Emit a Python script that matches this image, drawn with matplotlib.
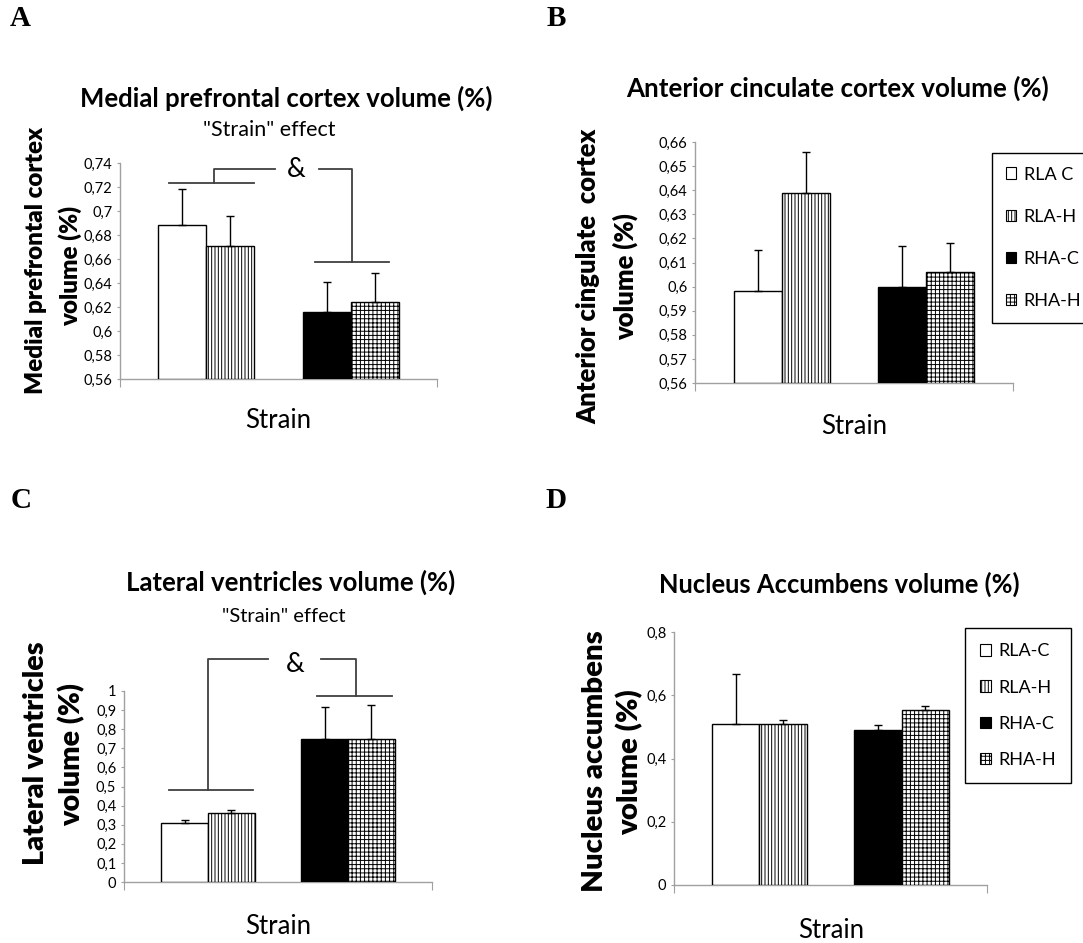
import numpy as np
import matplotlib
matplotlib.use("Agg")
import matplotlib.pyplot as plt
from matplotlib.patches import Patch
from matplotlib.ticker import FuncFormatter

# ── Data ──────────────────────────────────────────────────────────────────────
GROUPS = ["RLA-C", "RLA-H", "RHA-C", "RHA-H"]
LEGEND_B = ["RLA C", "RLA-H", "RHA-C", "RHA-H"]
LEGEND_D = ["RLA-C", "RLA-H", "RHA-C", "RHA-H"]

mpfc_mean = [0.688, 0.671, 0.616, 0.6245]
mpfc_sem = [0.030, 0.025, 0.025, 0.0235]

acc_mean = [0.598, 0.639, 0.600, 0.606]
acc_sem = [0.017, 0.017, 0.017, 0.012]

lv_mean = [0.311, 0.362, 0.747, 0.747]
lv_sem = [0.016, 0.014, 0.169, 0.181]

nacc_mean = [0.509, 0.509, 0.489, 0.553]
nacc_sem = [0.158, 0.014, 0.017, 0.013]

# ── Style ─────────────────────────────────────────────────────────────────────
W, H = 1083, 943
FONT = ["Lato", "DejaVu Sans"]
plt.rcParams["font.family"] = FONT
plt.rcParams["hatch.linewidth"] = 0.7
AXIS_GREY = "#a0a0a0"
BRACKET = "#404040"

FACES = ["white", "white", "black", "white"]
HATCHES = [None, "|||||", None, "++++"]
X_POS = [1.3, 2.3, 4.3, 5.3]     # Excel-like clustered layout, 1 bar = 1 unit
X_MAX = 6.6

fig = plt.figure(figsize=(W / 100, H / 100), dpi=100)
renderer = fig.canvas.get_renderer()


def px_axes(x0, y0, x1, y1):
    return fig.add_axes([x0 / W, 1 - y1 / H, (x1 - x0) / W, (y1 - y0) / H])


def ftext(x, y, s, **kw):
    return fig.text(x / W, 1 - y / H, s, ha="center", va="center", **kw)


def fit(t, target, vertical=False):
    """Scale a text's font so its rendered length matches target pixels."""
    bb = t.get_window_extent(renderer)
    cur = bb.height if vertical else bb.width
    t.set_fontsize(t.get_fontsize() * target / cur)
    return t.get_fontsize()


def ylabel2(line1, line2, x1, y1, x2, y2, length):
    """Two-line heavy rotated y label, sized on its first line."""
    kw = dict(fontweight="heavy", rotation=90)
    t = ftext(x1, y1, line1, fontsize=16, **kw)
    size = fit(t, length, vertical=True)
    ftext(x2, y2, line2, fontsize=size, **kw)


def comma(v, _):
    s = f"{v:.2f}".rstrip("0").rstrip(".")
    return s.replace(".", ",")


def draw_panel(ax, means, sems, lo, hi, step):
    for i in range(4):
        ax.bar(X_POS[i], means[i] - lo, bottom=lo, width=1.0,
               color=FACES[i], edgecolor="black", hatch=HATCHES[i],
               linewidth=1.0, zorder=3, label=GROUPS[i])
    ax.errorbar(X_POS, means, yerr=[np.zeros(4), sems], fmt="none",
                ecolor="black", elinewidth=1.0, capsize=3, capthick=1.0, zorder=4)
    ax.set_xlim(0, X_MAX)
    ax.set_ylim(lo, hi)
    ax.set_yticks(np.round(np.arange(lo, hi + step / 2, step), 3))
    ax.yaxis.set_major_formatter(FuncFormatter(comma))
    ax.set_xticks([0, X_MAX])
    ax.set_xticklabels([])
    ax.tick_params(axis="x", direction="out", length=6, color=AXIS_GREY)
    ax.tick_params(axis="y", direction="out", length=2.5, color=AXIS_GREY,
                   labelsize=10.5, pad=3)
    for side in ("top", "right"):
        ax.spines[side].set_visible(False)
    for side in ("left", "bottom"):
        ax.spines[side].set_color(AXIS_GREY)
        ax.spines[side].set_linewidth(1.0)


def draw_bracket(ax, segments, amp_xy):
    for seg in segments:
        xs, ys = zip(*seg)
        ax.plot(xs, ys, color=BRACKET, lw=1.3, clip_on=False, zorder=5)
    ax.text(amp_xy[0], amp_xy[1], "&", ha="center", va="center",
            fontsize=19, clip_on=False)


def add_legend(ax, labels, x, y, spacing, pad):
    handles = [Patch(facecolor=FACES[i], edgecolor="black", hatch=HATCHES[i], lw=0.8)
               for i in range(4)]
    leg = ax.legend(handles, labels, loc="upper left",
                    bbox_to_anchor=(x / W, 1 - y / H), bbox_transform=fig.transFigure,
                    fontsize=13, frameon=True, fancybox=False, framealpha=1,
                    edgecolor="black", handlelength=0.6, handleheight=0.6,
                    handletextpad=0.4, labelspacing=spacing, borderpad=pad,
                    borderaxespad=0)
    leg.get_frame().set_linewidth(1.0)


# ── Panel A: medial prefrontal cortex ────────────────────────────────────────
axA = px_axes(120, 163, 437, 379)
draw_panel(axA, mpfc_mean, mpfc_sem, 0.56, 0.74, 0.02)
draw_bracket(axA, [
    [(1.01, 0.723), (2.79, 0.723)],
    [(1.96, 0.723), (1.96, 0.7353), (3.23, 0.7353)],
    [(4.15, 0.7353), (4.84, 0.7353), (4.84, 0.6575)],
    [(4.05, 0.6575), (5.61, 0.6575)],
], (3.66, 0.7345))
t = ftext(286, 98, "Medial prefrontal cortex volume (%)", fontweight="bold", fontsize=16)
fit(t, 413)
t = ftext(269, 130, '"Strain" effect', fontsize=13)
fit(t, 132)
t = ftext(278, 420, "Strain", fontsize=17)
fit(t, 66)
ylabel2("Medial prefrontal cortex", "volume (%)", 36, 260, 70, 266, 266)

# ── Panel B: anterior cingulate cortex ───────────────────────────────────────
axB = px_axes(695, 142, 1013, 383)
draw_panel(axB, acc_mean, acc_sem, 0.56, 0.66, 0.01)
add_legend(axB, LEGEND_B, 992, 153, 1.45, 0.75)
t = ftext(838, 88, "Anterior cinculate cortex volume (%)", fontweight="bold", fontsize=16)
fit(t, 424)
t = ftext(854, 427, "Strain", fontsize=17)
fit(t, 66)
ylabel2("Anterior cingulate  cortex", "volume (%)", 588, 276, 625, 277, 295)

# ── Panel C: lateral ventricles ──────────────────────────────────────────────
axC = px_axes(124, 691, 432, 882)
draw_panel(axC, lv_mean, lv_sem, 0.0, 1.0, 0.1)
draw_bracket(axC, [
    [(0.96, 0.482), (2.77, 0.482)],
    [(1.79, 0.482), (1.79, 1.169), (3.09, 1.169)],
    [(4.23, 1.169), (4.97, 1.169), (4.97, 0.974)],
    [(4.14, 0.974), (5.75, 0.974)],
], (3.66, 1.14))
t = ftext(291, 582, "Lateral ventricles volume (%)", fontweight="bold", fontsize=16)
fit(t, 330)
t = ftext(284, 616, '"Strain" effect', fontsize=13)
fit(t, 124)
t = ftext(278, 927, "Strain", fontsize=17)
fit(t, 66)
ylabel2("Lateral ventricles", "volume (%)", 36, 753, 72, 755, 223)

# ── Panel D: nucleus accumbens ───────────────────────────────────────────────
axD = px_axes(674, 632, 987, 885)
draw_panel(axD, nacc_mean, nacc_sem, 0.0, 0.8, 0.2)
add_legend(axD, LEGEND_D, 965, 628, 1.12, 0.85)
t = ftext(839, 584, "Nucleus Accumbens volume (%)", fontweight="bold", fontsize=16)
fit(t, 363)
t = ftext(831, 930, "Strain", fontsize=17)
fit(t, 66)
ylabel2("Nucleus accumbens", "volume (%)", 595, 761, 630, 762, 262)

# ── Panel letters ────────────────────────────────────────────────────────────
for letter, (x, y) in zip("ABCD", [(20, 19), (556, 19), (21, 500), (556, 500)]):
    ftext(x, y, letter, fontsize=21, fontweight="bold",
          family=["Liberation Serif", "DejaVu Serif"])

fig.savefig("out.png", dpi=100, facecolor="white")
